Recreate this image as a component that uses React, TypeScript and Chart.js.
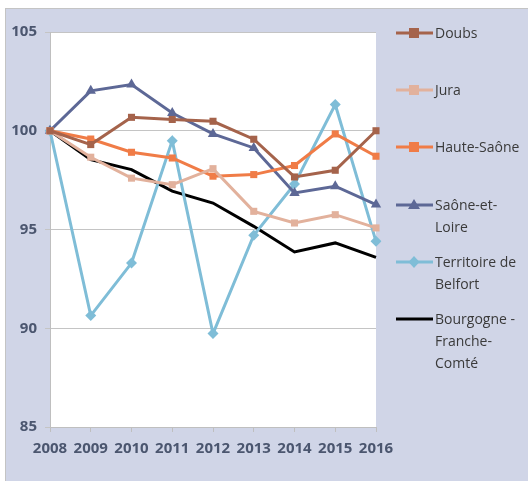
import React, { useEffect, useRef } from "react";
import { Chart, registerables } from "chart.js";

Chart.register(...registerables);

const years = ["2008", "2009", "2010", "2011", "2012", "2013", "2014", "2015", "2016"];
const doubs = [100, 99.3, 100.68, 100.57, 100.48, 99.57, 97.66, 98.0, 100.0];
const jura = [100, 98.66, 97.6, 97.27, 98.08, 95.92, 95.33, 95.75, 95.08];
const hauteSaone = [100, 99.58, 98.91, 98.62, 97.7, 97.78, 98.24, 99.84, 98.71];
const saoneEtLoire = [100, 102.02, 102.34, 100.9, 99.84, 99.13, 96.85, 97.19, 96.26];
const territoire = [100, 90.64, 93.3, 99.5, 89.73, 94.71, 97.3, 101.33, 94.4];
const bfc = [100, 98.54, 98.03, 96.94, 96.34, 95.16, 93.86, 94.32, 93.59];

const seriesNames = ["Doubs", "Jura", "Haute-Saône", "Saône-et-Loire", "Territoire de Belfort", "Bourgogne - Franche-Comté"];
const legendLines = [["Doubs"], ["Jura"], ["Haute-Saône"], ["Saône-et-", "Loire"], ["Territoire de", "Belfort"], ["Bourgogne -", "Franche-", "Comté"]];
const colors = ["#a5634b", "#e2b19c", "#f07c47", "#5d6896", "#7fbdd7", "#000000"];
const markers = ["rect", "rect", "rect", "triangle", "rectRot", "none"];
const legendY = [33, 90, 147, 205, 262, 319];

const seriesData = [doubs, jura, hauteSaone, saoneEtLoire, territoire, bfc];

const whiteArea = {
  id: "whiteArea",
  beforeDraw(chart: any) {
    const { ctx, chartArea } = chart;
    ctx.save();
    ctx.fillStyle = "#ffffff";
    ctx.fillRect(chartArea.left, chartArea.top, chartArea.right - chartArea.left, chartArea.bottom - chartArea.top);
    ctx.restore();
  },
};

function Swatch({ color, marker }: { color: string; marker: string }) {
  let m: any = null;
  if (marker === "rect") m = <rect x={13} y={6} width={10} height={10} fill={color} />;
  if (marker === "triangle") m = <polygon points="18,5 24,15 12,15" fill={color} />;
  if (marker === "rectRot") m = <polygon points="18,5 23.5,11 18,17 12.5,11" fill={color} />;
  return (
    <svg width={37} height={22} style={{ position: "absolute", left: 0, top: 0 }}>
      <line x1={0} y1={11} x2={37} y2={11} stroke={color} strokeWidth={3} />
      {m}
    </svg>
  );
}

export default function App() {
  const ref = useRef<HTMLCanvasElement>(null);
  useEffect(() => {
    const datasets = seriesNames.map((name, i) => ({
      label: name,
      data: seriesData[i],
      borderColor: colors[i],
      backgroundColor: colors[i],
      borderWidth: 3,
      pointStyle: markers[i] === "none" ? false : (markers[i] as any),
      pointRadius: markers[i] === "none" ? 0 : markers[i] === "triangle" ? 6 : markers[i] === "rectRot" ? 5.5 : 5,
      pointBorderWidth: 0,
      tension: 0,
    }));
    const chart = new Chart(ref.current!, {
      type: "line",
      data: { labels: years, datasets },
      options: {
        animation: false,
        responsive: false,
        maintainAspectRatio: false,
        layout: { padding: { left: 0, top: 32, right: 152, bottom: 0 } },
        plugins: { legend: { display: false }, tooltip: { enabled: false } },
        scales: {
          x: {
            offset: false,
            grid: { drawOnChartArea: false, drawTicks: true, tickLength: 5, color: "#bfbfbf" },
            border: { color: "#bfbfbf" },
            ticks: {
              color: "#4b566f",
              font: { family: "'Open Sans'", size: 15, weight: "bold" },
              padding: 8,
              maxRotation: 0,
              autoSkip: false,
            },
            afterFit: (s: any) => {
              s.height = 54;
            },
          },
          y: {
            min: 85,
            max: 105,
            grid: { color: "#c4c4c4", tickLength: 5, drawTicks: true },
            border: { color: "#bfbfbf" },
            ticks: {
              stepSize: 5,
              color: "#4b566f",
              font: { family: "'Open Sans'", size: 15, weight: "bold" },
              padding: 8,
            },
            afterFit: (s: any) => {
              s.width = 50;
            },
          },
        },
      },
      plugins: [whiteArea],
    });
    return () => chart.destroy();
  }, []);

  return (
    <div style={{ position: "absolute", left: 0, top: 0, width: 528, height: 481, background: "#ffffff", overflow: "hidden" }}>
      <div
        style={{
          position: "absolute",
          left: 5,
          top: 8,
          width: 540,
          height: 490,
          background: "#d0d5e7",
          borderTop: "1px solid #c4c4c4",
          borderLeft: "1px solid #c4c4c4",
          boxSizing: "border-box",
        }}
      />
      <canvas ref={ref} width={528} height={481} style={{ position: "absolute", left: 0, top: 0, width: 528, height: 481 }} />
      {legendLines.map((lines, i) => (
        <div key={i} style={{ position: "absolute", left: 396, top: legendY[i] - 11 }}>
          <Swatch color={colors[i]} marker={markers[i]} />
          <div
            style={{
              position: "absolute",
              left: 39,
              top: 0,
              whiteSpace: "nowrap",
              fontFamily: "'Open Sans', sans-serif",
              fontSize: 14,
              lineHeight: "22px",
              color: "#3a3a3a",
            }}
          >
            {lines.map((l, j) => (
              <div key={j}>{l}</div>
            ))}
          </div>
        </div>
      ))}
    </div>
  );
}
